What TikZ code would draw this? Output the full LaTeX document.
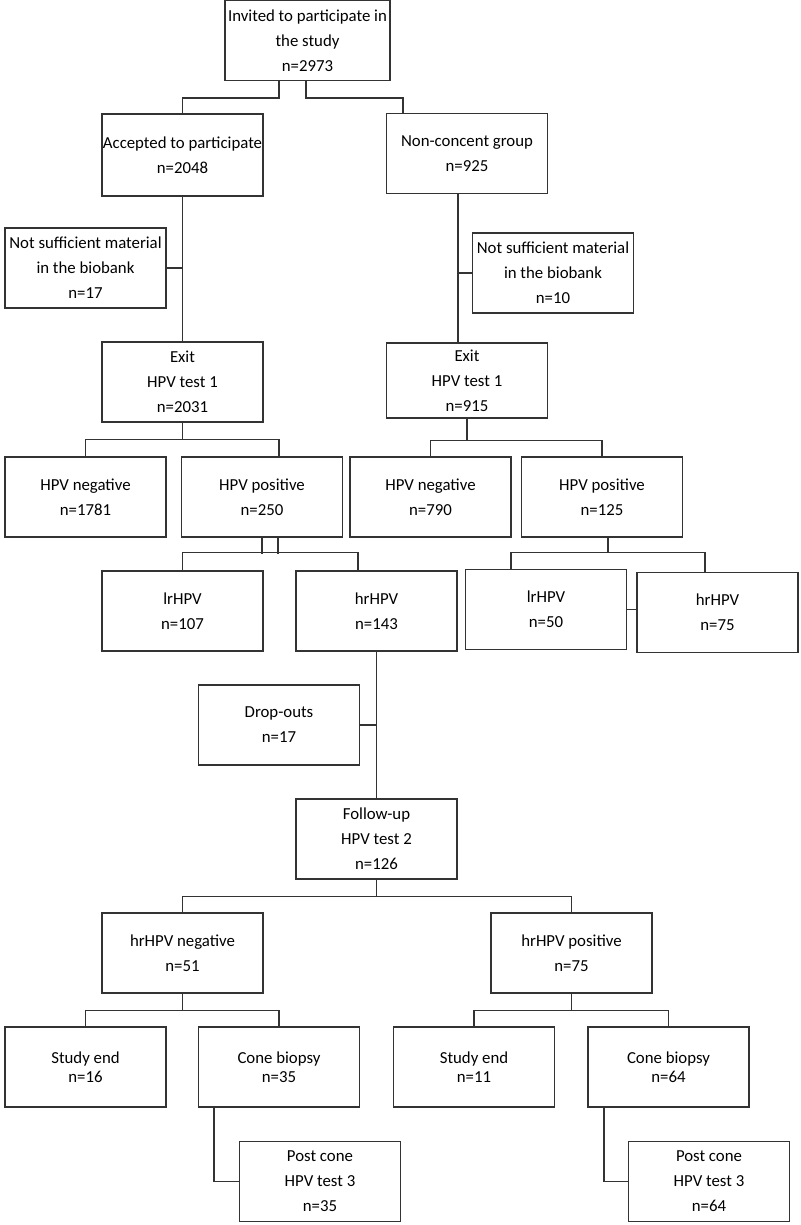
\documentclass[tikz,border=0pt]{standalone}
\usepackage{fontspec}
\setmainfont{Carlito}
\begin{document}
\begin{tikzpicture}[x=1pt, y=-1pt, line width=1.2pt, draw=black!80,
  box/.style={draw=black!80, align=center, minimum width=161pt, minimum height=80pt, inner sep=0pt, font=\fontsize{16.8}{25}\selectfont},
  tight/.style={font=\fontsize{16.8}{19}\selectfont}]
  \useasboundingbox (0,0) rectangle (800,1225);
  \node[box, minimum width=165pt] (invited) at (307.5,40.5) {Invited to participate in\\the study\\n=2973};
  \node[box, minimum height=82pt] (accepted) at (182.5,155) {Accepted to participate\\n=2048};
  \node[box] (noncon) at (467,153.5) {Non-concent group\\n=925};
  \node[box] (nsm1) at (85.5,268) {Not sufficient material\\in the biobank\\n=17};
  \node[box] (nsm2) at (553,273) {Not sufficient material\\in the biobank\\n=10};
  \node[box] (exit1) at (182.5,382) {Exit\\HPV test 1\\n=2031};
  \node[box, minimum height=75pt] (exit2) at (467,380.5) {Exit\\HPV test 1\\n=915};
  \node[box] (neg1) at (85.5,497) {HPV negative\\n=1781};
  \node[box] (pos1) at (262,497) {HPV positive\\n=250};
  \node[box] (neg2) at (430.5,497) {HPV negative\\n=790};
  \node[box] (pos2) at (602,497) {HPV positive\\n=125};
  \node[box] (lr1) at (182.5,611) {lrHPV\\n=107};
  \node[box] (hr1) at (376.5,611) {hrHPV\\n=143};
  \node[box] (lr2) at (546,609.5) {lrHPV\\n=50};
  \node[box] (hr2) at (717.5,612.5) {hrHPV\\n=75};
  \node[box] (drop) at (279,725) {Drop-outs\\n=17};
  \node[box] (follow) at (376.5,839) {Follow-up\\HPV test 2\\n=126};
  \node[box] (hneg) at (182.5,953) {hrHPV negative\\n=51};
  \node[box] (hpos) at (571.5,953) {hrHPV positive\\n=75};
  \node[box, tight] (end1) at (85.5,1067) {Study end\\n=16};
  \node[box, tight] (cone1) at (279,1067) {Cone biopsy\\n=35};
  \node[box, tight] (end2) at (474,1067) {Study end\\n=11};
  \node[box, tight] (cone2) at (668.5,1067) {Cone biopsy\\n=64};
  \node[box] (post1) at (320,1181.5) {Post cone\\HPV test 3\\n=35};
  \node[box] (post2) at (709,1181.5) {Post cone\\HPV test 3\\n=64};
  \draw ([xshift=-28.5pt]invited.south) -- ++(0,17) -| (accepted.north);
  \draw ([xshift=-1.5pt]invited.south) -- ++(0,17) -| ([xshift=-64pt]noncon.north);
  \draw (accepted.south) -- (exit1.north); \draw (nsm1.east) -- (nsm1.east -| accepted.south);
  \draw ([xshift=-9pt]noncon.south) coordinate (trunk) -- ([xshift=-9pt]exit2.north);
  \draw (nsm2.west) -- (nsm2.west -| trunk);
  \draw (exit1.south) -- ++(0,17) coordinate (fork1) -| (neg1.north); \draw (fork1) -| ([xshift=17pt]pos1.north);
  \draw (exit2.south) -- ++(0,22) coordinate (fork2) -| (neg2.north); \draw (fork2) -| (pos2.north);
  \draw (pos1.south) -- ++(0,16); \draw ([xshift=16pt]pos1.south) -- ++(0,16);
  \draw (lr1.north) -- ++(0,-18) -| ([xshift=-18.5pt]hr1.north);
  \draw ([xshift=6pt]pos2.south) -- ++(0,15) coordinate (fork3) -| ([xshift=-35pt]lr2.north); \draw (fork3) -| ([xshift=-12.5pt]hr2.north);
  \draw (lr2.east) -- (lr2.east -| hr2.west);
  \draw (hr1.south) -- (follow.north); \draw (drop.east) -- (drop.east -| hr1.south);
  \draw (follow.south) -- ++(0,17) coordinate (fork4) -| (hneg.north); \draw (fork4) -| (hpos.north);
  \draw (hneg.south) -- ++(0,17) coordinate (fork5) -| (end1.north); \draw (fork5) -| (cone1.north);
  \draw (hpos.south) -- ++(0,17) coordinate (fork6) -| (end2.north); \draw (fork6) -| (cone2.north);
  \draw ([xshift=-65pt]cone1.south) |- (post1.west);
  \draw ([xshift=-64.5pt]cone2.south) |- (post2.west);
\end{tikzpicture}
\end{document}
